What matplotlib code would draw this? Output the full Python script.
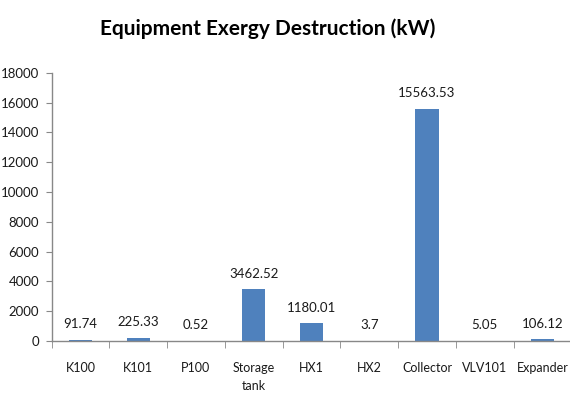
import matplotlib
matplotlib.use("Agg")
import matplotlib.pyplot as plt
import numpy as np

# ===== DATA =====
equipment = ["K100", "K101", "P100", "Storage\ntank", "HX1", "HX2",
             "Collector", "VLV101", "Expander"]
exergy_destruction = [91.74, 225.33, 0.52, 3462.52, 1180.01, 3.7,
                      15563.53, 5.05, 106.12]
value_labels = ["91.74", "225.33", "0.52", "3462.52", "1180.01", "3.7",
                "15563.53", "5.05", "106.12"]
y_ticks = list(range(0, 18001, 2000))

plt.rcParams['font.family'] = ['Lato', 'DejaVu Sans']

fig = plt.figure(figsize=(5.7, 4.05), dpi=100)
ax = fig.add_axes([0.0904, 0.158, 0.912, 0.662])

x = np.arange(len(equipment))
ax.bar(x, exergy_destruction, width=0.4, color="#4F81BD", zorder=2)

for xi, val, lab in zip(x, exergy_destruction, value_labels):
    ax.annotate(lab, (xi, val), xytext=(0, 7), textcoords="offset points",
                ha="center", va="bottom", fontsize=9.5, color="#1a1a1a")

ax.set_xlim(-0.5, len(equipment) - 0.5)
ax.set_ylim(0, 18000)
ax.set_yticks(y_ticks)
ax.set_yticklabels([str(v) for v in y_ticks], fontsize=9.5, color="#1a1a1a")

# category labels without ticks, separator ticks between categories
ax.set_xticks(x)
ax.set_xticklabels(equipment, fontsize=9, color="#1a1a1a", linespacing=1.6)
ax.tick_params(axis="x", which="major", length=0, pad=15)
ax.set_xticks(np.arange(-0.5, len(equipment)), minor=True)
ax.tick_params(axis="x", which="minor", length=5, color="#888888", direction="out")
ax.tick_params(axis="y", length=4, color="#888888", pad=5)

for s in ["top", "right"]:
    ax.spines[s].set_visible(False)
for s in ["left", "bottom"]:
    ax.spines[s].set_color("#888888")
    ax.spines[s].set_linewidth(1)

fig.suptitle("Equipment Exergy Destruction (kW)", x=0.47, y=0.955,
             fontsize=15, fontweight="bold")

fig.savefig("out.png", dpi=100)
